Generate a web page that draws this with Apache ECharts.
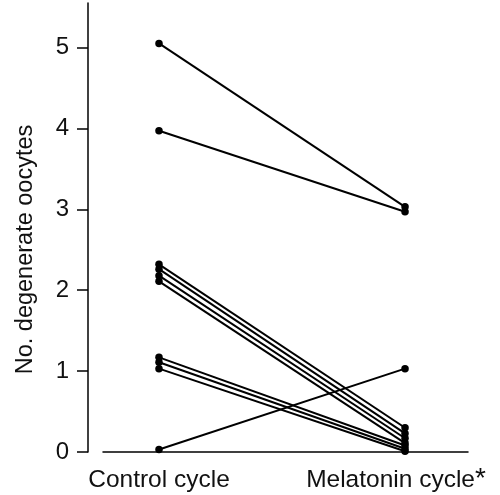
<!DOCTYPE html>
<html><head><meta charset="utf-8">
<script src="https://cdn.jsdelivr.net/npm/echarts@6/dist/echarts.min.js"></script>
<style>html,body{margin:0;padding:0;background:#fff}#c{width:500px;height:495px}</style>
</head><body><div id="c"></div>
<script>
var categories = ['Control cycle', 'Melatonin cycle'];
var controlValues = [5.05, 3.97, 2.32, 2.26, 2.18, 2.11, 1.17, 1.11, 1.03, 0.03];
var melatoninValues = [3.03, 2.97, 0.30, 0.23, 0.17, 0.11, 0.08, 0.04, 0.01, 1.03];
var yTicks = [0, 1, 2, 3, 4, 5];

var series = controlValues.map(function (c, i) {
  return {
    type: 'line',
    data: [[0, c], [1, melatoninValues[i]]],
    symbol: 'circle',
    symbolSize: 7.5,
    lineStyle: { color: '#000', width: 2 },
    itemStyle: { color: '#000' },
    silent: true,
    animation: false
  };
});

var chart = echarts.init(document.getElementById('c'));
chart.setOption({
  animation: false,
  grid: { left: 103, right: 32, top: 3, bottom: 43, outerBoundsMode: 'none', containLabel: false },
  xAxis: {
    type: 'value',
    min: -0.2276,
    max: 1.256,
    splitLine: { show: false },
    axisLine: { show: true, onZero: false, lineStyle: { color: '#000', width: 1.5 } },
    axisTick: { show: false },
    axisLabel: {
      customValues: [0, 1],
      margin: 13,
      formatter: function (v) {
        return v === 0 ? '{a|' + categories[0] + '}' : '{a|' + categories[1] + '}{s|*}';
      },
      rich: {
        a: { fontFamily: 'Liberation Sans', fontSize: 24.5, color: '#111', lineHeight: 28, verticalAlign: 'bottom' },
        s: { fontFamily: 'Liberation Sans', fontSize: 28, color: '#111', lineHeight: 18, verticalAlign: 'top', padding: [0, 18, 0, 0] }
      }
    }
  },
  yAxis: {
    type: 'value',
    min: 0,
    max: 5.55,
    interval: 1,
    offset: 15,
    name: 'No. degenerate oocytes',
    nameLocation: 'middle',
    nameGap: 50,
    nameTextStyle: { fontFamily: 'Liberation Sans', fontSize: 23.5, color: '#111', padding: [0, 44, 0, 0] },
    splitLine: { show: false },
    axisLine: { show: true, onZero: false, lineStyle: { color: '#000', width: 1.5 } },
    axisTick: { show: true, inside: false, length: 11, lineStyle: { color: '#000', width: 1.5 }, customValues: yTicks },
    axisLabel: {
      customValues: yTicks,
      margin: 19,
      fontFamily: 'Liberation Sans',
      fontSize: 24,
      color: '#111'
    }
  },
  series: series
});
</script></body></html>
